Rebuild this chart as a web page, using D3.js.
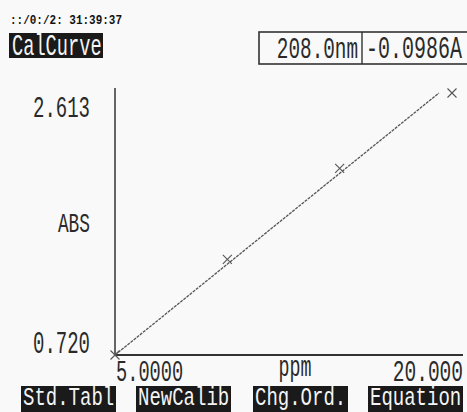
<!DOCTYPE html>
<html>
<head>
<meta charset="utf-8">
<script src="https://cdn.jsdelivr.net/npm/d3@7"></script>
<style>
  html, body { margin: 0; padding: 0; background: #f9f9f9; }
  svg { display: block; }
</style>
</head>
<body>
<div id="chart"></div>
<script>
// calibration standards
var stdPpm = [5, 10, 15, 20];
var stdAbs = [0.720, 1.411, 2.069, 2.613];

// fitted calibration line (ends where it leaves the plot)
var fitPpm = [5, 19.42];
var fitAbs = [0.720, 2.613];

var yLabels = ["0.720", "2.613"];
var xLabels = ["5.0000", "20.000"];
var yTitle = "ABS";
var xTitle = "ppm";

var stamp = "::/0:/2: 31:39:37";
var title = "CalCurve";
var readout = ["208.0nm", "-0.0986A"];
var buttons = ["Std.Tabl", "NewCalib", "Chg.Ord.", "Equation"];

var W = 467, H = 412;
var FONT = "'Liberation Mono', 'DejaVu Sans Mono', monospace";

var svg = d3.select("#chart").append("svg")
  .attr("width", W).attr("height", H);

svg.append("rect").attr("width", W).attr("height", H).attr("fill", "#f9f9f9");

var x = d3.scaleLinear().domain([5, 20]).range([115, 452]);
var y = d3.scaleLinear().domain([0.720, 2.613]).range([355, 93]);

// tall narrow lcd-ish text: width from char cell, stretched vertically to cap height
function lcd(sel, s, px, py, cw, capH, anchor, fill) {
  var fs = cw / 0.6;
  var sy = capH / (0.69 * fs);
  var gg = sel.append("g").attr("transform", "translate(" + px + "," + py + ") scale(1," + sy.toFixed(3) + ")");
  return gg.append("text")
    .attr("font-family", FONT)
    .attr("font-size", fs.toFixed(2))
    .attr("text-anchor", anchor || "start")
    .attr("fill", fill || "#2a2a2a")
    .text(s);
}

// header
lcd(svg, stamp, 10, 24, 6.6, 9, "start", "#111").attr("font-weight", "bold");

svg.append("rect").attr("x", 9).attr("y", 33).attr("width", 94).attr("height", 25).attr("fill", "#1a1a1a");
lcd(svg, title, 12, 55, 11.2, 20, "start", "#f4f4f4");

svg.append("rect").attr("x", 259).attr("y", 32).attr("width", 220).attr("height", 32)
  .attr("fill", "none").attr("stroke", "#333").attr("stroke-width", 1.6);
svg.append("line").attr("x1", 362).attr("x2", 362).attr("y1", 32).attr("y2", 64)
  .attr("stroke", "#333").attr("stroke-width", 1.4);
lcd(svg, readout[0], 358, 58, 11.6, 21, "end");
lcd(svg, readout[1], 366, 58, 12, 21, "start");

// axes
var g = svg.append("g");
g.append("line")
  .attr("x1", x.range()[0]).attr("x2", x.range()[0])
  .attr("y1", y.range()[0]).attr("y2", y.range()[1] - 5)
  .attr("stroke", "#333").attr("stroke-width", 1.5);
g.append("line")
  .attr("x1", x.range()[0]).attr("x2", 463)
  .attr("y1", y.range()[0]).attr("y2", y.range()[0])
  .attr("stroke", "#333").attr("stroke-width", 1.8);

// axis labels (only the range ends, instrument style)
lcd(svg, yLabels[1], 90, y(stdAbs[3]) + 24, 11.4, 20, "end");
lcd(svg, yTitle, 90, 232, 10.7, 19, "end");
lcd(svg, yLabels[0], 90, y(yLabels[0]) - 2, 11.4, 21, "end");

lcd(svg, xLabels[0], x(5) + 1, 381, 11.2, 20, "start");
lcd(svg, xTitle, 295, 376, 11, 20, "middle");
lcd(svg, xLabels[1], 463, 381, 11.7, 20, "end");

// calibration line
var line = d3.line().x(function(d) { return x(d[0]); }).y(function(d) { return y(d[1]); });
g.append("path")
  .datum(d3.zip(fitPpm, fitAbs))
  .attr("d", line)
  .attr("fill", "none")
  .attr("stroke", "#555")
  .attr("stroke-width", 1.3)
  .attr("stroke-dasharray", "3,1");

// standards as x marks
var s = 4.5;
g.selectAll("path.mark")
  .data(d3.zip(stdPpm, stdAbs))
  .enter().append("path")
  .attr("class", "mark")
  .attr("d", function(d) {
    var cx = x(d[0]), cy = y(d[1]);
    return "M" + (cx - s) + "," + (cy - s) + "L" + (cx + s) + "," + (cy + s) +
           "M" + (cx - s) + "," + (cy + s) + "L" + (cx + s) + "," + (cy - s);
  })
  .attr("fill", "none")
  .attr("stroke", "#555")
  .attr("stroke-width", 1.1);

// soft keys
var bx = [21, 136, 253, 368];
buttons.forEach(function(b, i) {
  svg.append("rect").attr("x", bx[i]).attr("y", 386).attr("width", 95).attr("height", 26).attr("fill", "#1a1a1a");
  lcd(svg, b, bx[i] + 2, 405, 11.4, 18, "start", "#f4f4f4");
});
</script>
</body>
</html>
